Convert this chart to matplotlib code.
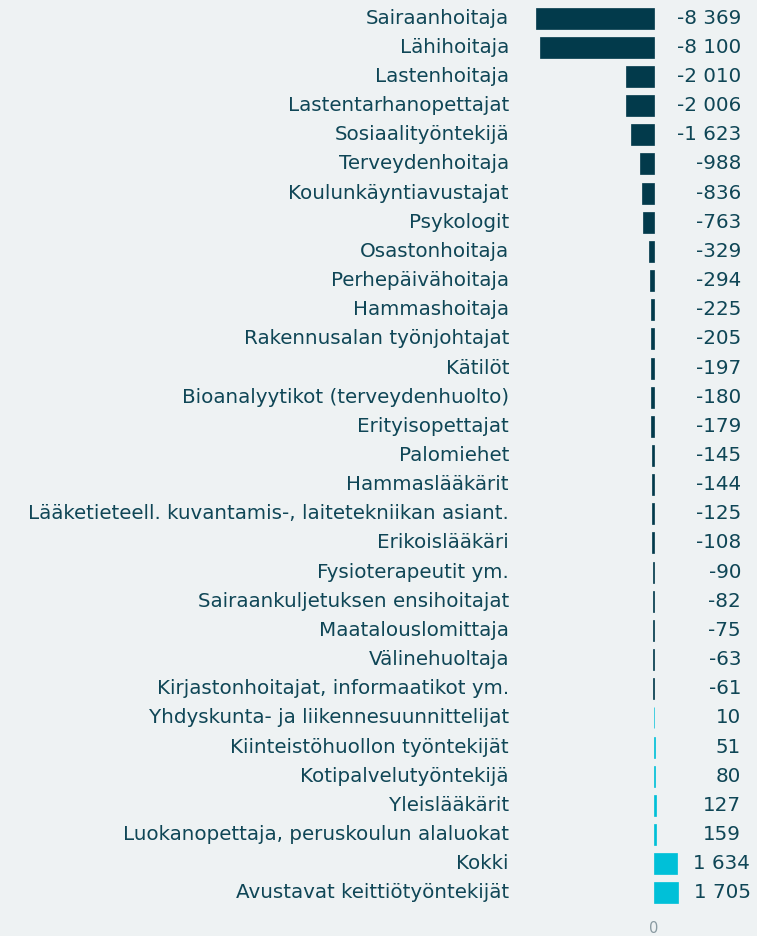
import matplotlib
matplotlib.use("Agg")
import matplotlib.pyplot as plt
import matplotlib.transforms as mtransforms

categories = [
    "Sairaanhoitaja", "Lähihoitaja", "Lastenhoitaja", "Lastentarhanopettajat",
    "Sosiaalityöntekijä", "Terveydenhoitaja", "Koulunkäyntiavustajat", "Psykologit",
    "Osastonhoitaja", "Perhepäivähoitaja", "Hammashoitaja", "Rakennusalan työnjohtajat",
    "Kätilöt", "Bioanalyytikot (terveydenhuolto)", "Erityisopettajat", "Palomiehet",
    "Hammaslääkärit", "Lääketieteell. kuvantamis-, laitetekniikan asiant.", "Erikoislääkäri",
    "Fysioterapeutit ym.", "Sairaankuljetuksen ensihoitajat", "Maatalouslomittaja",
    "Välinehuoltaja", "Kirjastonhoitajat, informaatikot ym.",
    "Yhdyskunta- ja liikennesuunnittelijat", "Kiinteistöhuollon työntekijät",
    "Kotipalvelutyöntekijä", "Yleislääkärit", "Luokanopettaja, peruskoulun alaluokat",
    "Kokki", "Avustavat keittiötyöntekijät",
]
values = [-8369, -8100, -2010, -2006, -1623, -988, -836, -763, -329, -294, -225, -205,
          -197, -180, -179, -145, -144, -125, -108, -90, -82, -75, -63, -61,
          10, 51, 80, 127, 159, 1634, 1705]

BG = "#eef2f3"
NEG = "#023a4b"
POS = "#00c0d8"
TXT = "#0f4656"

W, H = 757, 936
fig = plt.figure(figsize=(W / 100, H / 100), dpi=100, facecolor=BG)

ax_left_px, ax_right_px = 520, 757
zero_px = 654
scale = 118.0 / 8369  # px per unit
xmin = -(zero_px - ax_left_px) / scale
xmax = (ax_right_px - zero_px) / scale

top_px = 18 - 14.58
bot_px = 893 + 14.58
ax = fig.add_axes([ax_left_px / W, 1 - bot_px / H, (ax_right_px - ax_left_px) / W,
                   (bot_px - top_px) / H])
ax.set_facecolor(BG)
n = len(categories)
ys = list(range(n))
colors = [NEG if v < 0 else POS for v in values]
ax.barh(ys, values, height=0.72, color=colors, edgecolor=colors, linewidth=0.5, zorder=2)
ax.set_xlim(xmin, xmax)
ax.set_ylim(n - 0.5, -0.5)
for s in ax.spines.values():
    s.set_visible(False)
ax.set_yticks([])
ax.set_xticks([0])
ax.set_xticklabels(["0"])
ax.tick_params(axis="x", length=0, colors="#8a9ba2", labelsize=10.5, pad=10)

trans_lab = mtransforms.blended_transform_factory(fig.transFigure, ax.transData)
value_texts = []
for y, c, v in zip(ys, categories, values):
    fig.text(509 / W, y, c, transform=trans_lab, ha="right", va="center",
             fontsize=14.3, color=TXT, family="DejaVu Sans")
    s = f"{abs(v):,}".replace(",", " ")
    if v < 0:
        s = "-" + s
    t = fig.text(741 / W, y, s, transform=trans_lab, ha="right", va="center",
                 fontsize=14.3, color=TXT, family="DejaVu Sans")
    value_texts.append((t, v))

# push value labels right if they would collide with the bar end
fig.canvas.draw()
renderer = fig.canvas.get_renderer()
for t, v in value_texts:
    ext = t.get_window_extent(renderer)
    bar_end_px = ax.transData.transform((max(v, 0), 0))[0]
    min_left = bar_end_px + 16
    if ext.x0 < min_left:
        t.set_ha("left")
        t.set_x(min_left / W)

fig.savefig("out.png", dpi=100, facecolor=BG)
